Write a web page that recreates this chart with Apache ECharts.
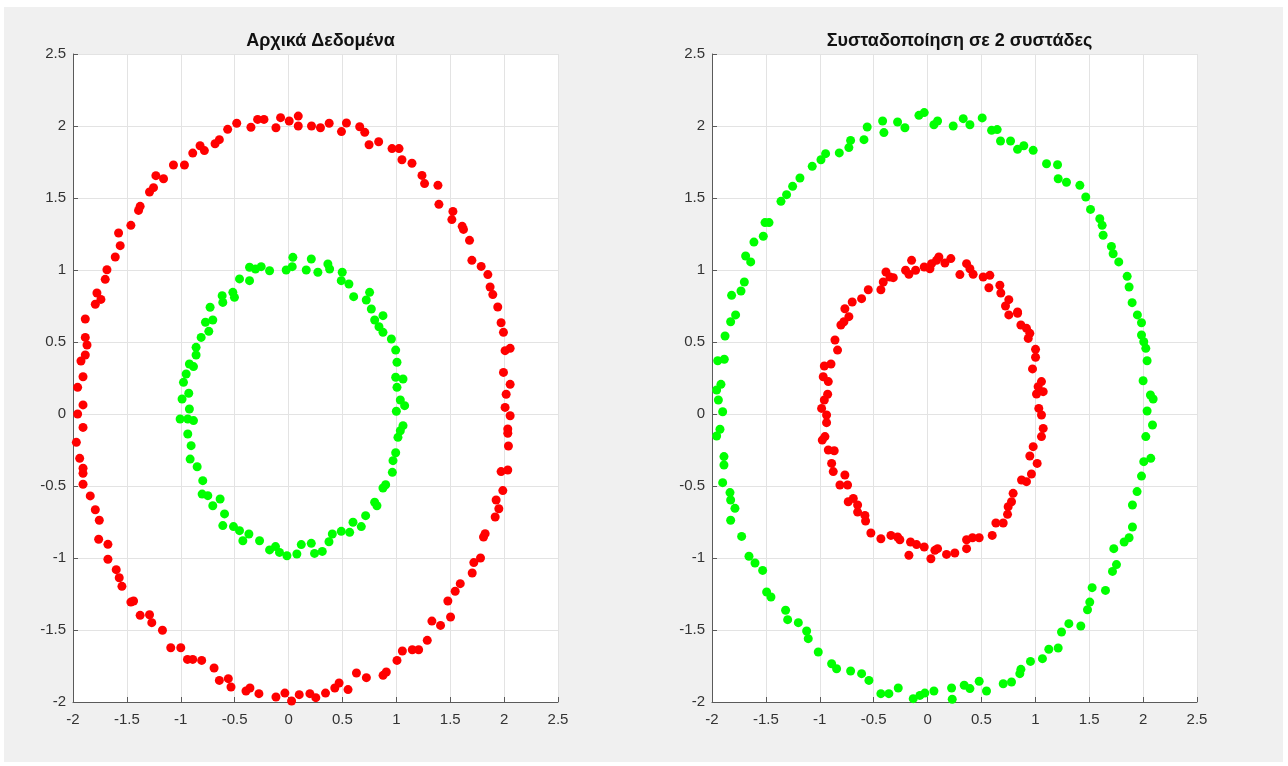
<!DOCTYPE html>
<html>
<head>
<meta charset="utf-8">
<script src="https://cdn.jsdelivr.net/npm/echarts@6/dist/echarts.min.js"></script>
<style>
  html, body { margin: 0; padding: 0; background: #ffffff; }
  #fig { position: absolute; left: 4px; top: 7px; width: 1279px; height: 755px; background: #f0f0f0; }
  #chart { width: 1288px; height: 766px; position: absolute; left: 0; top: 0; }
</style>
</head>
<body>
<div id="fig"></div>
<div id="chart"></div>
<script>
// Titles of the two panels
const titles = ['Αρχικά Δεδομένα', 'Συσταδοποίηση σε 2 συστάδες'];

// Axis ticks (shared by both panels)
const axisMin = -2, axisMax = 2.5, axisStep = 0.5;

// Panel 1: original data, outer ring (red)
const origOuter = [
  [-1.793,0.762],[-1.778,0.840],[-1.741,0.796],[-1.701,0.935],[-1.685,1.002],[-1.608,1.090],[-1.562,1.169],[-1.577,1.257],
  [-1.463,1.310],[-1.392,1.414],[-1.377,1.442],[-1.290,1.542],[-1.253,1.572],[-1.231,1.655],[-1.160,1.634],[-1.068,1.729],
  [-0.966,1.729],[-0.889,1.812],[-0.821,1.863],[-0.781,1.829],[-0.682,1.877],[-0.642,1.905],[-0.565,1.977],[-0.481,2.019],
  [-0.349,1.991],[-0.287,2.046],[-0.228,2.046],[-0.117,1.988],[-0.074,2.058],[0.006,2.035],[0.090,2.069],[0.090,2.000],
  [0.213,2.000],[0.296,1.988],[0.377,2.019],[0.491,1.961],[0.537,2.021],[0.660,1.995],[0.707,1.956],[0.747,1.870],
  [0.836,1.891],[0.960,1.843],[1.025,1.843],[1.052,1.766],[1.145,1.741],[1.238,1.657],[1.262,1.600],[1.386,1.588],
  [1.395,1.456],[1.525,1.407],[1.515,1.350],[1.611,1.303],[1.623,1.282],[1.679,1.206],[1.701,1.067],[1.787,1.025],
  [1.849,0.968],[1.870,0.882],[1.895,0.829],[1.941,0.743],
  [-1.886,0.660],[-1.886,0.532],[-1.870,0.479],[-1.886,0.410],[-1.926,0.368],[-1.907,0.259],[-1.957,0.185],[-1.907,0.063],
  [-1.957,0.000],[-1.907,-0.093],[-1.969,-0.197],[-1.938,-0.308],[-1.907,-0.377],[-1.907,-0.412],[-1.907,-0.488],[-1.840,-0.569],
  [-1.793,-0.665],
  [1.972,0.634],[1.994,0.567],[2.009,0.440],[2.056,0.456],[1.994,0.289],[2.056,0.206],[2.019,0.137],[2.009,0.046],
  [2.056,-0.012],[2.034,-0.104],[2.034,-0.134],[2.040,-0.222],[2.034,-0.389],[1.972,-0.400],[1.988,-0.532],[1.926,-0.597],
  [1.951,-0.658],
  [-1.756,-0.738],[-1.762,-0.870],[-1.676,-0.905],[-1.676,-1.009],[-1.599,-1.081],[-1.571,-1.137],[-1.546,-1.197],[-1.463,-1.306],
  [-1.438,-1.299],[-1.377,-1.398],[-1.290,-1.394],[-1.269,-1.449],[-1.170,-1.502],[-1.093,-1.623],[-1.000,-1.623],[-0.938,-1.704],
  [-0.889,-1.704],[-0.806,-1.711],[-0.691,-1.764],[-0.642,-1.850],[-0.559,-1.838],[-0.534,-1.896],[-0.395,-1.924],[-0.358,-1.903],
  [-0.275,-1.942],[-0.117,-1.965],[-0.034,-1.938],[0.028,-1.993],[0.099,-1.949],[0.198,-1.942],[0.253,-1.970],[0.343,-1.938],
  [0.429,-1.903],[0.469,-1.868],[0.552,-1.914],[0.630,-1.799],[0.722,-1.831],[0.877,-1.815],[0.907,-1.792],[1.006,-1.711],
  [1.056,-1.646],[1.148,-1.637],[1.207,-1.637],[1.287,-1.572],[1.330,-1.438],[1.410,-1.468],[1.503,-1.410],[1.478,-1.299],
  [1.546,-1.231],[1.593,-1.178],[1.704,-1.104],[1.719,-1.032],[1.781,-1.000],[1.809,-0.854],[1.824,-0.831],[1.917,-0.715]
];

// Panel 1: original data, inner ring (green)
const origInner = [
  [0.040,1.088],[0.211,1.076],[0.164,1.000],[0.272,0.984],[0.365,1.042],[0.381,1.007],[-0.022,1.000],[0.034,1.023],
  [-0.176,0.995],[-0.254,1.023],[-0.307,1.007],[-0.362,1.019],[-0.455,0.938],[-0.362,0.926],[-0.517,0.845],[-0.616,0.822],
  [-0.610,0.775],[-0.502,0.810],[-0.728,0.741],[-0.703,0.653],[-0.771,0.637],[-0.740,0.574],[-0.811,0.532],[-0.858,0.463],
  [-0.858,0.410],[-0.920,0.347],[-0.882,0.329],[-0.950,0.278],[-0.975,0.220],[-0.926,0.144],[-0.988,0.104],[-0.920,0.035],
  [-1.006,-0.035],[-0.935,-0.035],[-0.882,-0.046],[-0.935,-0.139],[-0.904,-0.220],[-0.913,-0.313],[-0.848,-0.366],[-0.796,-0.463],
  [-0.802,-0.556],[-0.749,-0.567],[-0.703,-0.637],[-0.635,-0.590],[-0.594,-0.694],[-0.610,-0.775],[-0.511,-0.782],[-0.455,-0.810],
  [-0.424,-0.880],[-0.368,-0.833],[-0.269,-0.880],[-0.176,-0.944],[-0.121,-0.921],[-0.084,-0.961],[-0.015,-0.984],[0.077,-0.972],
  [0.118,-0.907],[0.211,-0.898],[0.241,-0.968],[0.313,-0.954],[0.375,-0.887],[0.406,-0.833],[0.489,-0.815],[0.567,-0.822],
  [0.598,-0.752],[0.675,-0.782],[0.715,-0.706],[0.799,-0.613],[0.820,-0.637],[0.876,-0.514],[0.901,-0.491],[0.963,-0.405],
  [0.969,-0.324],[0.994,-0.269],[1.015,-0.162],[1.062,-0.081],[1.037,-0.116],[1.000,0.019],[1.077,0.058],[1.037,0.097],
  [1.006,0.185],[1.062,0.243],[0.994,0.255],[1.006,0.359],[0.994,0.444],[0.954,0.521],[0.876,0.567],[0.839,0.606],
  [0.876,0.683],[0.799,0.653],[0.768,0.729],[0.721,0.792],[0.752,0.845],[0.604,0.815],[0.560,0.903],[0.489,0.926],
  [0.498,0.984]
];

// Panel 2: cluster 1, outer ring (green)
const clusterOuter = [
  [-1.818,0.824],[-1.731,0.854],[-1.700,0.917],[-1.688,1.097],[-1.641,1.056],[-1.611,1.194],[-1.524,1.234],[-1.508,1.329],
  [-1.471,1.329],[-1.360,1.477],[-1.308,1.523],[-1.252,1.581],[-1.184,1.639],[-1.070,1.720],[-0.989,1.766],[-0.946,1.808],
  [-0.819,1.813],[-0.730,1.850],[-0.714,1.900],[-0.590,1.905],[-0.560,1.993],[-0.417,2.035],[-0.405,1.954],[-0.278,2.028],
  [-0.210,1.988],[-0.080,2.074],[-0.031,2.093],[0.059,2.009],[0.093,2.035],[0.238,2.000],[0.331,2.051],[0.393,2.009],
  [0.507,2.056],[0.594,1.970],[0.646,1.975],[0.677,1.896],[0.770,1.896],[0.835,1.838],[0.893,1.863],[0.980,1.831],
  [1.104,1.738],[1.206,1.731],[1.212,1.634],[1.289,1.609],[1.413,1.588],[1.468,1.507],[1.512,1.421],[1.598,1.356],
  [1.620,1.310],[1.629,1.241],[1.706,1.164],[1.722,1.113],[1.774,1.056],[1.852,0.956],[1.870,0.882],[1.898,0.773],
  [-1.781,0.688],[-1.827,0.641],[-1.879,0.542],[-1.886,0.380],[-1.947,0.370],[-1.917,0.206],[-1.957,0.167],[-1.941,0.097],
  [-1.901,0.016],[-1.926,-0.106],[-1.957,-0.153],[-1.889,-0.296],[-1.889,-0.354],[-1.901,-0.477],[-1.833,-0.546],[-1.827,-0.597],
  [-1.787,-0.655],
  [1.947,0.688],[1.985,0.634],[1.985,0.549],[2.006,0.502],[2.025,0.456],[2.037,0.370],[2.000,0.231],[2.068,0.132],
  [2.093,0.104],[2.037,0.021],[2.087,-0.076],[2.025,-0.157],[2.006,-0.331],[2.071,-0.308],[1.985,-0.431],[1.944,-0.539],
  [1.901,-0.632],
  [-1.827,-0.738],[-1.725,-0.850],[-1.657,-0.988],[-1.601,-1.035],[-1.530,-1.086],[-1.493,-1.236],[-1.453,-1.271],[-1.317,-1.363],
  [-1.298,-1.428],[-1.199,-1.449],[-1.122,-1.507],[-1.107,-1.560],[-1.014,-1.653],[-0.890,-1.734],[-0.844,-1.769],[-0.714,-1.785],
  [-0.612,-1.803],[-0.544,-1.850],[-0.433,-1.942],[-0.359,-1.942],[-0.272,-1.903],[-0.133,-1.977],[-0.071,-1.954],[-0.025,-1.938],
  [0.059,-1.924],[0.223,-1.903],[0.229,-1.981],[0.340,-1.884],[0.393,-1.907],[0.479,-1.856],[0.547,-1.924],[0.702,-1.873],
  [0.779,-1.861],[0.856,-1.803],[0.866,-1.773],[0.955,-1.718],[1.066,-1.699],[1.125,-1.634],[1.212,-1.625],[1.243,-1.514],
  [1.311,-1.456],[1.422,-1.472],[1.484,-1.359],[1.505,-1.306],[1.527,-1.206],[1.651,-1.225],[1.716,-1.093],[1.753,-1.046],
  [1.728,-0.935],[1.824,-0.889],[1.870,-0.859],[1.901,-0.785]
];

// Panel 2: cluster 2, inner ring (red)
const clusterInner = [
  [-0.767,0.731],[-0.699,0.778],[-0.612,0.801],[-0.550,0.863],[-0.433,0.863],[-0.411,0.917],[-0.386,0.986],[-0.349,0.951],
  [-0.318,0.947],[-0.204,0.998],[-0.173,0.970],[-0.148,1.067],[-0.111,0.998],[-0.031,1.021],[0.022,1.009],[0.037,1.044],
  [0.083,1.067],[0.105,1.090],[0.161,1.049],[0.216,1.079],[0.300,0.968],[0.362,1.044],[0.393,1.009],[0.423,0.970],
  [0.516,0.951],[0.578,0.963],[0.569,0.877],[0.671,0.894],[0.680,0.840],[0.754,0.794],[0.723,0.750],[0.835,0.708],
  [-0.730,0.676],[-0.776,0.641],[-0.804,0.618],[-0.859,0.514],[-0.835,0.444],[-0.896,0.347],[-0.958,0.333],[-0.968,0.259],
  [-0.921,0.225],[-0.927,0.137],[-0.958,0.097],[-0.983,0.039],[-0.937,-0.007],[-0.937,-0.060],[-0.952,-0.157],[-0.977,-0.181],
  [-0.921,-0.250],[-0.866,-0.255],[-0.890,-0.343],[-0.875,-0.400],[-0.767,-0.424],[-0.813,-0.493],[-0.742,-0.493],[-0.689,-0.586],
  [-0.736,-0.609],[-0.649,-0.632],
  [0.754,0.688],[0.835,0.699],[0.866,0.618],[0.918,0.595],[0.949,0.560],[0.934,0.525],[1.002,0.449],[1.002,0.394],
  [0.974,0.313],[1.057,0.225],[1.026,0.190],[1.073,0.155],[1.011,0.139],[1.032,0.039],[1.057,-0.007],[1.073,-0.100],
  [1.057,-0.157],[0.980,-0.227],[0.949,-0.292],[1.017,-0.343],[0.964,-0.417],[0.918,-0.470],[0.872,-0.458],[0.794,-0.551],
  [0.779,-0.609],[0.748,-0.644],
  [-0.649,-0.681],[-0.581,-0.704],[-0.575,-0.743],[-0.526,-0.826],[-0.433,-0.866],[-0.340,-0.843],[-0.278,-0.854],[-0.257,-0.873],
  [-0.158,-0.889],[-0.102,-0.907],[-0.031,-0.924],[-0.173,-0.981],[0.031,-1.005],[0.068,-0.947],[0.093,-0.935],[0.176,-0.975],
  [0.253,-0.965],[0.362,-0.935],[0.362,-0.873],[0.417,-0.859],[0.479,-0.859],[0.600,-0.843],[0.634,-0.757],[0.702,-0.757],
  [0.742,-0.697]
];

const RED = '#ff0000', GREEN = '#00ff00';
const FONT = '"Liberation Sans", Arial, Helvetica, sans-serif';

const grids = [
  { left: 73, top: 54, width: 485, height: 648 },
  { left: 712, top: 54, width: 485, height: 648 }
];

function makeAxis(idx, isX) {
  return {
    gridIndex: idx,
    type: 'value',
    min: axisMin, max: axisMax, interval: axisStep,
    axisLine: { show: true, onZero: false, lineStyle: { color: '#5a5a5a', width: 1 } },
    axisTick: { show: true, inside: true, length: 5, lineStyle: { color: '#5a5a5a' } },
    axisLabel: { color: '#333333', fontSize: 15, fontFamily: FONT, margin: isX ? 10 : 7, showMaxLabel: true, showMinLabel: true },
    splitLine: { show: true, lineStyle: { color: '#e3e3e3', width: 1 } }
  };
}

function scatter(idx, data, color) {
  return {
    type: 'scatter',
    xAxisIndex: idx, yAxisIndex: idx,
    data: data,
    symbol: 'circle',
    symbolSize: 9,
    itemStyle: { color: color, opacity: 1 },
    silent: true,
    animation: false
  };
}

const chart = echarts.init(document.getElementById('chart'), null, { renderer: 'canvas' });
chart.setOption({
  animation: false,
  backgroundColor: 'transparent',
  title: titles.map((t, i) => ({
    text: t,
    left: grids[i].left + grids[i].width / 2,
    top: 27,
    textAlign: 'center',
    textStyle: { fontSize: 18, fontWeight: 'bold', color: '#111111', fontFamily: FONT }
  })),
  grid: grids.map(g => Object.assign({ show: true, backgroundColor: '#ffffff', borderWidth: 0 }, g)),
  xAxis: [makeAxis(0, true), makeAxis(1, true)],
  yAxis: [makeAxis(0, false), makeAxis(1, false)],
  series: [
    scatter(0, origOuter, RED),
    scatter(0, origInner, GREEN),
    scatter(1, clusterOuter, GREEN),
    scatter(1, clusterInner, RED)
  ]
});
</script>
</body>
</html>
